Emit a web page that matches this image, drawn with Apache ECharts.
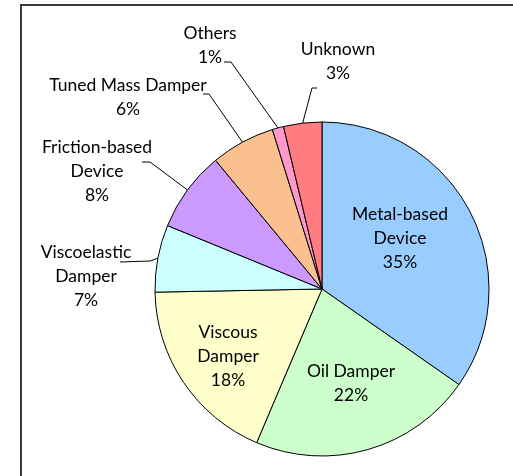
<!DOCTYPE html>
<html>
<head>
<meta charset="utf-8">
<script src="https://cdn.jsdelivr.net/npm/echarts@6/dist/echarts.min.js"></script>
<style>
  html, body { margin: 0; padding: 0; background: #fff; }
  #pieChart { width: 513px; height: 476px; }
</style>
</head>
<body>
<div id="pieChart"></div>
<script>
// damper types, clockwise from 12 o'clock
const categories = ['Metal-based\nDevice', 'Oil Damper', 'Viscous\nDamper', 'Viscoelastic\nDamper',
  'Friction-based\nDevice', 'Tuned Mass Damper', 'Others', 'Unknown'];
// slice sizes
const shares = [34.7, 21.7, 18.3, 6.5, 7.8, 6.2, 1.1, 3.7];
// percentages as printed on the chart
const percentLabels = ['35%', '22%', '18%', '7%', '8%', '6%', '1%', '3%'];

const colors = ['#99CCFF', '#CCFFCC', '#FFFFCC', '#CCFFFF', '#CC99FF', '#FAC090', '#FF99CC', '#FF7C80'];
// label block centres, leader elbows/ends (only for outside ones)
const labelPlace = [
  { x: 400, y: 238 },
  { x: 351, y: 383 },
  { x: 228, y: 356 },
  { x: 86, y: 276, elbow: [150, 261], end: [120, 262] },
  { x: 97, y: 171, elbow: [150, 162], end: [142, 162] },
  { x: 128, y: 97, elbow: [209, 94], end: [203, 94] },
  { x: 210, y: 45, elbow: [231, 62], end: [224, 62] },
  { x: 338, y: 61, elbow: [312, 88], end: [317, 88] }
];

const chart = echarts.init(document.getElementById('pieChart'));

chart.setOption({
  backgroundColor: '#fff',
  animation: false,
  graphic: [{
    type: 'rect',
    shape: { x: 21, y: 5, width: 600, height: 600 },
    style: { fill: 'none', stroke: '#3a3a3a', lineWidth: 2 },
    silent: true
  }],
  series: [{
    type: 'pie',
    center: [322, 289],
    radius: 167,
    startAngle: 90,
    clockwise: true,
    avoidLabelOverlap: false,
    itemStyle: { borderColor: '#000', borderWidth: 1 },
    label: {
      show: true,
      position: 'outside',
      overflow: 'none',
      fontFamily: 'Lato',
      fontSize: 17.5,
      lineHeight: 24,
      color: '#000',
      align: 'center',
      formatter: (p) => p.name + '\n' + percentLabels[p.dataIndex]
    },
    labelLine: {
      length: 10,
      length2: 10,
      lineStyle: { color: '#000', width: 1 }
    },
    labelLayout: (params) => {
      const pl = labelPlace[params.dataIndex];
      const out = { x: pl.x, y: pl.y, align: 'center', verticalAlign: 'middle' };
      if (pl.elbow && params.labelLinePoints) {
        out.labelLinePoints = [params.labelLinePoints[0], pl.elbow, pl.end];
      }
      return out;
    },
    emphasis: { disabled: true },
    data: categories.map((name, i) => ({
      name: name,
      value: shares[i],
      itemStyle: { color: colors[i] },
      labelLine: { show: i >= 3 }
    }))
  }]
});
</script>
</body>
</html>
